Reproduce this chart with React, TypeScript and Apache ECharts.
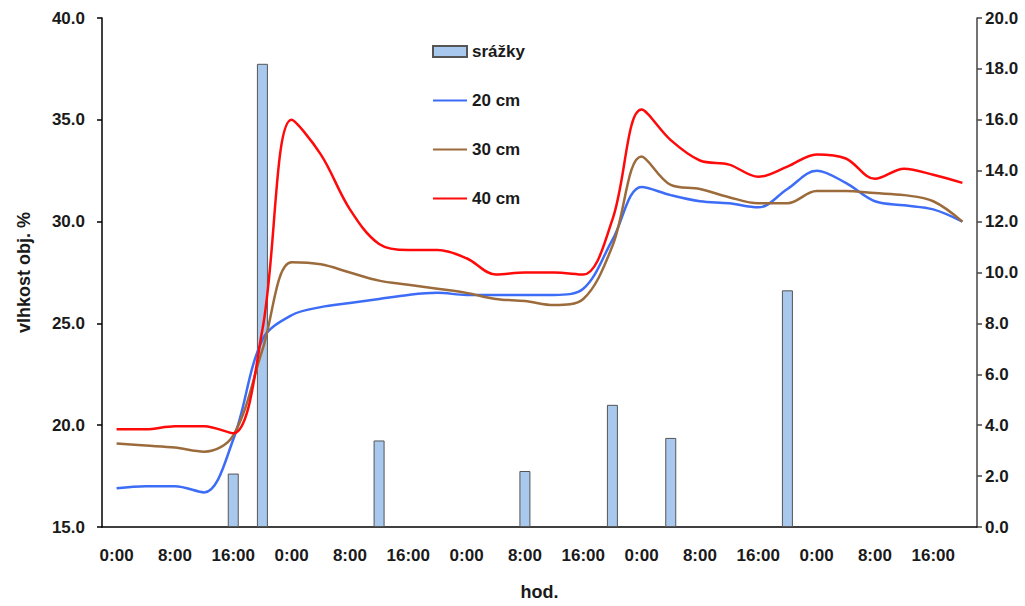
import React, { useEffect, useRef } from "react";
import * as echarts from "echarts";

const hours = ["0:00", "4:00", "8:00", "12:00", "16:00", "20:00"];
const categories: string[] = [];
for (let d = 0; d < 5; d++) for (const h of hours) categories.push(h);

const rain = [null, null, null, null, 2.1, 18.2, null, null, null, 3.4, null, null, null, null, 2.2, null, null, 4.8, null, 3.5, null, null, null, 9.3, null, null, null, null, null, null];

const cm20 = [16.9, 17.0, 17.0, 16.7, 19.3, 24.2, 25.4, 25.8, 26.0, 26.2, 26.4, 26.5, 26.4, 26.4, 26.4, 26.4, 26.7, 29.1, 31.7, 31.3, 31.0, 30.9, 30.7, 31.6, 32.5, 31.9, 31.0, 30.8, 30.6, 30.0];
const cm30 = [19.1, 19.0, 18.9, 18.7, 19.5, 23.7, 28.0, 27.9, 27.5, 27.1, 26.9, 26.7, 26.5, 26.2, 26.1, 25.9, 26.2, 28.8, 33.2, 31.8, 31.6, 31.2, 30.9, 30.9, 31.5, 31.5, 31.4, 31.3, 31.0, 30.0];
const cm40 = [19.8, 19.8, 19.95, 19.95, 19.6, 24.7, 35.0, 33.3, 30.6, 28.9, 28.6, 28.6, 28.2, 27.4, 27.5, 27.5, 27.4, 30.1, 35.5, 34.0, 33.0, 32.8, 32.2, 32.7, 33.3, 33.1, 32.1, 32.6, 32.3, 31.9];

const font = "Arial, 'Liberation Sans', sans-serif";

export default function App() {
  const ref = useRef<HTMLDivElement>(null);
  useEffect(() => {
    const chart = echarts.init(ref.current!, null, { renderer: "svg" });
    const lineSeries = (name: string, data: number[], color: string) => ({
      name,
      type: "line",
      yAxisIndex: 0,
      data,
      smooth: 0.35,
      symbol: "none",
      lineStyle: { color, width: 2.5 },
      itemStyle: { color },
      z: 3,
    });
    const tickLabel = { fontSize: 17, fontWeight: "bold", color: "#1a1a1a", fontFamily: font };
    chart.setOption({
      animation: false,
      textStyle: { fontFamily: font },
      grid: { left: 102, right: 48, top: 18, bottom: 78, containLabel: false },
      legend: {
        orient: "vertical",
        left: 427,
        top: 38,
        itemGap: 32,
        itemWidth: 34,
        itemHeight: 11,
        textStyle: { fontFamily: font, fontSize: 17, fontWeight: "bold", color: "#1a1a1a" },
        data: [
          { name: "srážky", icon: "rect" },
          { name: "20 cm", icon: "path://M0,5 L34,5 L34,7.2 L0,7.2 Z" },
          { name: "30 cm", icon: "path://M0,5 L34,5 L34,7.2 L0,7.2 Z" },
          { name: "40 cm", icon: "path://M0,5 L34,5 L34,7.2 L0,7.2 Z" },
        ],
      },
      xAxis: {
        type: "category",
        data: categories,
        boundaryGap: true,
        name: "hod.",
        nameLocation: "middle",
        nameGap: 56,
        nameTextStyle: { fontFamily: font, fontSize: 18, color: "#1a1a1a", fontWeight: "bold" },
        axisLine: { lineStyle: { color: "#000", width: 1.5 } },
        axisTick: { interval: 0, alignWithLabel: false, length: 6, lineStyle: { color: "#000", width: 1.5 } },
        axisLabel: { interval: 1, margin: 20, ...tickLabel },
        splitLine: { show: false },
      },
      yAxis: [
        {
          type: "value",
          min: 15,
          max: 40,
          interval: 5,
          position: "left",
          name: "vlhkost obj. %",
          nameLocation: "middle",
          nameGap: 69,
          nameTextStyle: { fontFamily: font, fontSize: 18, color: "#1a1a1a", fontWeight: "bold" },
          axisLine: { show: true, lineStyle: { color: "#000", width: 1.5 } },
          axisTick: { show: true, length: 5, lineStyle: { color: "#000", width: 1.5 } },
          axisLabel: { margin: 17, formatter: (v: number) => v.toFixed(1), ...tickLabel },
          splitLine: { show: false },
        },
        {
          type: "value",
          min: 0,
          max: 20,
          interval: 2,
          position: "right",
          axisLine: { show: true, lineStyle: { color: "#444", width: 1.5 } },
          axisTick: { show: true, length: 5, lineStyle: { color: "#444", width: 1.5 } },
          axisLabel: { margin: 8, formatter: (v: number) => v.toFixed(1), ...tickLabel },
          splitLine: { show: false },
        },
      ],
      series: [
        {
          name: "srážky",
          type: "bar",
          yAxisIndex: 1,
          data: rain,
          barWidth: 11,
          itemStyle: { color: "#a8c8ee", borderColor: "#555", borderWidth: 1 },
          z: 2,
        },
        lineSeries("20 cm", cm20, "#3d6cf6"),
        lineSeries("30 cm", cm30, "#9c6b3c"),
        lineSeries("40 cm", cm40, "#ff0a0a"),
      ],
    });
    return () => chart.dispose();
  }, []);
  return <div ref={ref} style={{ position: "fixed", left: 0, top: 0, width: 1025, height: 606, background: "#fff" }} />;
}
